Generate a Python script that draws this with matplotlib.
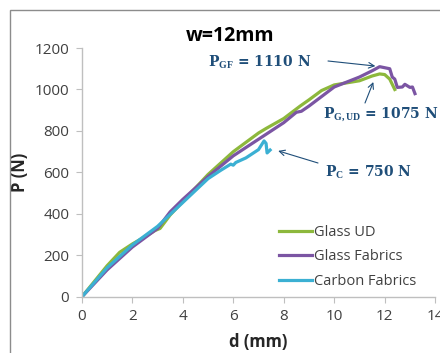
import matplotlib
matplotlib.use("Agg")
import matplotlib.pyplot as plt
from matplotlib.patches import Rectangle

plt.rcParams['mathtext.fontset'] = 'custom'
plt.rcParams['mathtext.rm'] = 'Liberation Serif:bold'
plt.rcParams['mathtext.it'] = 'Liberation Serif:bold'
plt.rcParams['mathtext.bf'] = 'Liberation Serif:bold'

# Glass UD
gud_d = [0, 0.5, 1.0, 1.5, 2.0, 2.5, 2.9, 3.0, 3.1, 3.5, 4.0, 5.0, 6.0, 7.0, 7.3, 8.0, 8.65, 9.0, 9.5, 10.0, 11.0, 11.5, 11.8, 12.0, 12.2, 12.4]
gud_p = [0, 75, 150, 215, 255, 290, 320, 325, 330, 395, 460, 590, 700, 790, 812, 860, 920, 950, 995, 1022, 1042, 1065, 1075, 1072, 1050, 1000]
# Glass Fabrics
gf_d = [0, 1.0, 2.0, 3.0, 3.5, 4.0, 5.0, 6.0, 7.0, 8.0, 8.5, 8.7, 9.0, 10.0, 11.0, 11.5, 11.8, 12.0, 12.2, 12.3, 12.4, 12.5, 12.7, 12.8, 13.0, 13.1, 13.2]
gf_p = [0, 130, 240, 330, 410, 470, 580, 680, 760, 840, 890, 895, 920, 1012, 1060, 1090, 1110, 1105, 1100, 1060, 1050, 1010, 1012, 1025, 1010, 1012, 980]
# Carbon Fabrics
cf_d = [0, 1.0, 2.0, 3.0, 4.0, 5.0, 5.5, 5.9, 6.0, 6.1, 6.5, 7.0, 7.22, 7.3, 7.34, 7.46]
cf_p = [0, 140, 250, 340, 455, 570, 610, 640, 635, 648, 670, 710, 752, 740, 694, 708]

series_names = ["Glass UD", "Glass Fabrics", "Carbon Fabrics"]
colors = ["#8DB83C", "#7B55A3", "#3BB0D3"]

x_ticks = [0, 2, 4, 6, 8, 10, 12, 14]
y_ticks = [0, 200, 400, 600, 800, 1000, 1200]

fig = plt.figure(figsize=(4.4, 3.53), dpi=100)
ax = fig.add_axes([0.186, 0.159, 0.803, 0.705])

ax.plot(gud_d, gud_p, color=colors[0], lw=2.3, label=series_names[0])
ax.plot(gf_d, gf_p, color=colors[1], lw=2.3, label=series_names[1])
ax.plot(cf_d, cf_p, color=colors[2], lw=2.3, label=series_names[2])

ax.set_xlim(0, 14)
ax.set_ylim(0, 1200)
ax.set_xticks(x_ticks)
ax.set_yticks(y_ticks)
for s in ['top', 'right']:
    ax.spines[s].set_visible(False)
for s in ['left', 'bottom']:
    ax.spines[s].set_color('#BFBFBF')
    ax.spines[s].set_linewidth(1)
ax.tick_params(colors='#BFBFBF', labelcolor='#404040', labelsize=11, length=4, pad=5)
for lab in ax.get_xticklabels() + ax.get_yticklabels():
    lab.set_family('Open Sans')

ax.set_xlabel('d (mm)', fontsize=12, fontweight='bold', color='#262626', family='Open Sans', labelpad=6)
ax.set_ylabel('P (N)', fontsize=12, fontweight='bold', color='#262626', family='Open Sans', labelpad=4)

fig.text(0.523, 0.898, 'w=12mm', fontsize=14, fontweight='bold', ha='center', va='center', family='Open Sans')

ann_col = '#1F4E79'
tkw = dict(fontsize=10, color=ann_col, va='center', ha='left', family='DejaVu Serif', fontweight='bold')
akw = dict(arrowstyle='->', color=ann_col, lw=0.8, shrinkA=0, shrinkB=0)
H = 353

ax.annotate(r'P$_{\mathbf{GF}}$ = 1110 N', xy=(208, H - 62), xycoords='figure pixels', **tkw)
ax.annotate('', xy=(11.63, 1113), xycoords='data', xytext=(328, H - 61), textcoords='figure pixels', arrowprops=akw)

ax.annotate(r'P$_{\mathbf{G,UD}}$ = 1075 N', xy=(323, H - 114), xycoords='figure pixels', **tkw)
ax.annotate('', xy=(11.55, 1036), xycoords='data', xytext=(365, H - 103), textcoords='figure pixels', arrowprops=akw)

ax.annotate(r'P$_{\mathbf{C}}$ = 750 N', xy=(325, H - 172), xycoords='figure pixels', **tkw)
ax.annotate('', xy=(7.78, 704), xycoords='data', xytext=(318, H - 163), textcoords='figure pixels', arrowprops=akw)

leg = ax.legend(loc='lower right', bbox_to_anchor=(0.985, -0.02), frameon=False,
                handlelength=2.2, handletextpad=0.2, labelspacing=0.65, prop={'family': 'Open Sans', 'size': 10.5})
for t in leg.get_texts():
    t.set_color('#404040')

fig.patches.append(Rectangle((10 / 440, -0.1), 1.2, (353 - 10) / 353 + 0.1, transform=fig.transFigure,
                             fill=False, edgecolor='#8C8C8C', lw=1))

fig.savefig('out.png', dpi=100)
